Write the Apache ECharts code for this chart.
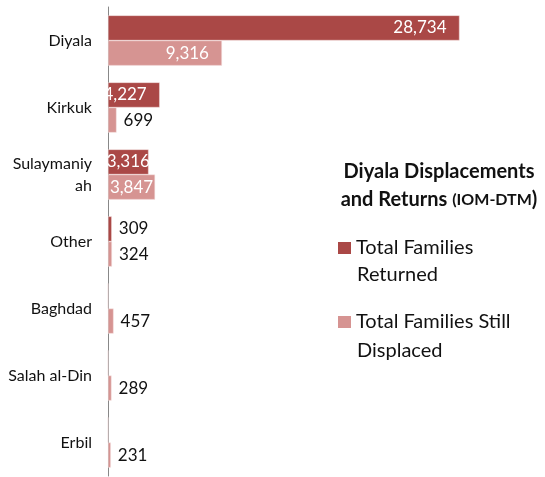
<!DOCTYPE html>
<html>
<head>
<meta charset="utf-8">
<script src="https://cdn.jsdelivr.net/npm/echarts@6/dist/echarts.min.js"></script>
<style>
  html, body { margin: 0; padding: 0; background: #fff; }
  #chart { width: 545px; height: 477px; }
</style>
</head>
<body>
<div id="chart"></div>
<script>
var categories = ['Diyala', 'Kirkuk', 'Sulaymaniyah', 'Other', 'Baghdad', 'Salah al-Din', 'Erbil'];
var catLabels = ['Diyala', 'Kirkuk', 'Sulaymaniy\nah', 'Other', 'Baghdad', 'Salah al-Din', 'Erbil'];
var returned = [28734, 4227, 3316, 309, 0, 0, 0];
var displaced = [9316, 699, 3847, 324, 457, 289, 231];

var FONT = 'Lato';

// big bars get the label inside in white, small ones outside in black;
// labels that barely fit (Sulaymaniyah) sit in the middle of the bar like Excel does
function labelled(values) {
  return values.map(function (v, i) {
    var big = v > 2000;
    var squeezed = categories[i] === 'Sulaymaniyah';
    return {
      value: v,
      label: {
        show: v > 0,
        position: big ? (squeezed ? 'inside' : 'insideRight') : 'right',
        distance: big ? 13 : 7,
        color: big ? '#ffffff' : '#111111'
      }
    };
  });
}

var myChart = echarts.init(document.getElementById('chart'));

var option = {
  animation: false,
  title: {
    text: '{a|Diyala Displacements}\n{a|and Returns }{b|(IOM-DTM}{a|)}',
    left: 434,
    top: 153,
    textAlign: 'center',
    textStyle: {
      rich: {
        a: { fontFamily: FONT, fontSize: 20, fontWeight: 'bold', color: '#111', lineHeight: 28 },
        b: { fontFamily: FONT, fontSize: 16, fontWeight: 'bold', color: '#111', lineHeight: 28 }
      }
    }
  },
  legend: {
    orient: 'vertical',
    left: 338,
    top: 238,
    padding: 0,
    itemWidth: 13,
    itemHeight: 12,
    itemGap: 54,
    itemStyle: { borderWidth: 0 },
    icon: 'rect',
    data: ['Total Families Returned', 'Total Families Still Displaced'],
    formatter: function (name) {
      return name === 'Total Families Returned' ? 'Total Families' : 'Total Families Still';
    },
    textStyle: { fontFamily: FONT, fontSize: 20, color: '#111' }
  },
  graphic: [
    { type: 'text', left: 357, top: 265, style: { text: 'Returned', font: '20px Lato', fill: '#111' } },
    { type: 'text', left: 357, top: 341, style: { text: 'Displaced', font: '20px Lato', fill: '#111' } }
  ],
  grid: { left: 108, right: 70, top: 7, bottom: 1, containLabel: false },
  xAxis: {
    type: 'value',
    min: 0,
    max: 30000,
    show: false,
    splitLine: { show: false }
  },
  yAxis: {
    type: 'category',
    inverse: true,
    data: categories,
    axisLine: { show: true, lineStyle: { color: '#888', width: 1 } },
    axisTick: { show: false },
    axisLabel: {
      margin: 16,
      fontFamily: FONT,
      fontSize: 16,
      color: '#111',
      lineHeight: 22,
      formatter: function (v, i) { return catLabels[i]; }
    }
  },
  series: [
    {
      name: 'Total Families Returned',
      type: 'bar',
      barGap: '0%',
      barCategoryGap: '25%',
      itemStyle: { color: '#aa4846', borderColor: '#f2dede', borderWidth: 0.5 },
      label: {
        fontFamily: FONT,
        fontSize: 17,
        formatter: function (p) { return p.value.toLocaleString('en-US'); }
      },
      data: labelled(returned)
    },
    {
      name: 'Total Families Still Displaced',
      type: 'bar',
      barGap: '0%',
      barCategoryGap: '25%',
      itemStyle: { color: '#d69492', borderColor: '#f7e6e6', borderWidth: 0.5 },
      label: {
        fontFamily: FONT,
        fontSize: 17,
        formatter: function (p) { return p.value.toLocaleString('en-US'); }
      },
      data: labelled(displaced)
    }
  ]
};

myChart.setOption(option);
</script>
</body>
</html>
